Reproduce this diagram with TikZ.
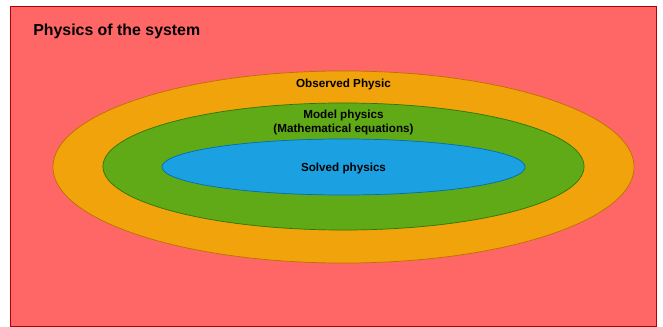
\documentclass[tikz,border=0pt]{standalone}
\usepackage{fontspec}
\setmainfont{Liberation Sans}
\usetikzlibrary{shapes.geometric,positioning}

\definecolor{sysfill}{HTML}{FF6666}
\definecolor{sysline}{HTML}{B20000}
\definecolor{obsfill}{HTML}{F0A30A}
\definecolor{obsline}{HTML}{BD7000}
\definecolor{modfill}{HTML}{60A917}
\definecolor{modline}{HTML}{2D7600}
\definecolor{solfill}{HTML}{1BA1E2}
\definecolor{solline}{HTML}{006EAF}

\begin{document}
\begin{tikzpicture}[x=0.025cm, y=-0.025cm,
  zone/.style={ellipse, line width=0.5pt, inner sep=0pt},
  tag/.style={font=\bfseries\fontsize{8.3}{10}\selectfont, align=center, inner sep=0pt}]
\useasboundingbox (0,0) rectangle (663,327);

\node[draw=sysline, fill=sysfill, line width=0.6pt, minimum width=16.125cm,
      minimum height=8cm, inner sep=0pt] (system) at (333.5,166) {};
\node[zone, draw=obsline, fill=obsfill, minimum width=14.525cm, minimum height=4.8cm]   (observed) at (343.5,167) {};
\node[zone, draw=modline, fill=modfill, minimum width=12.025cm, minimum height=3.175cm] (model)    at (343.5,166.5) {};
\node[zone, draw=solline, fill=solfill, minimum width=9.075cm,  minimum height=1.4cm]   (solved)   at (343.5,167) {};

\node[tag, anchor=west, font=\bfseries\fontsize{11.3}{13}\selectfont] (systag) at (33,31) {Physics of the system};
\node[tag, below=0.21cm of observed.north] (obstag) {Observed Physic};
\node[tag, below=0.18cm of model.north]    (modtag) {Model physics\\(Mathematical equations)};
\node[tag, yshift=-0.04cm] (soltag) at (solved.center) {Solved physics};
\end{tikzpicture}
\end{document}
